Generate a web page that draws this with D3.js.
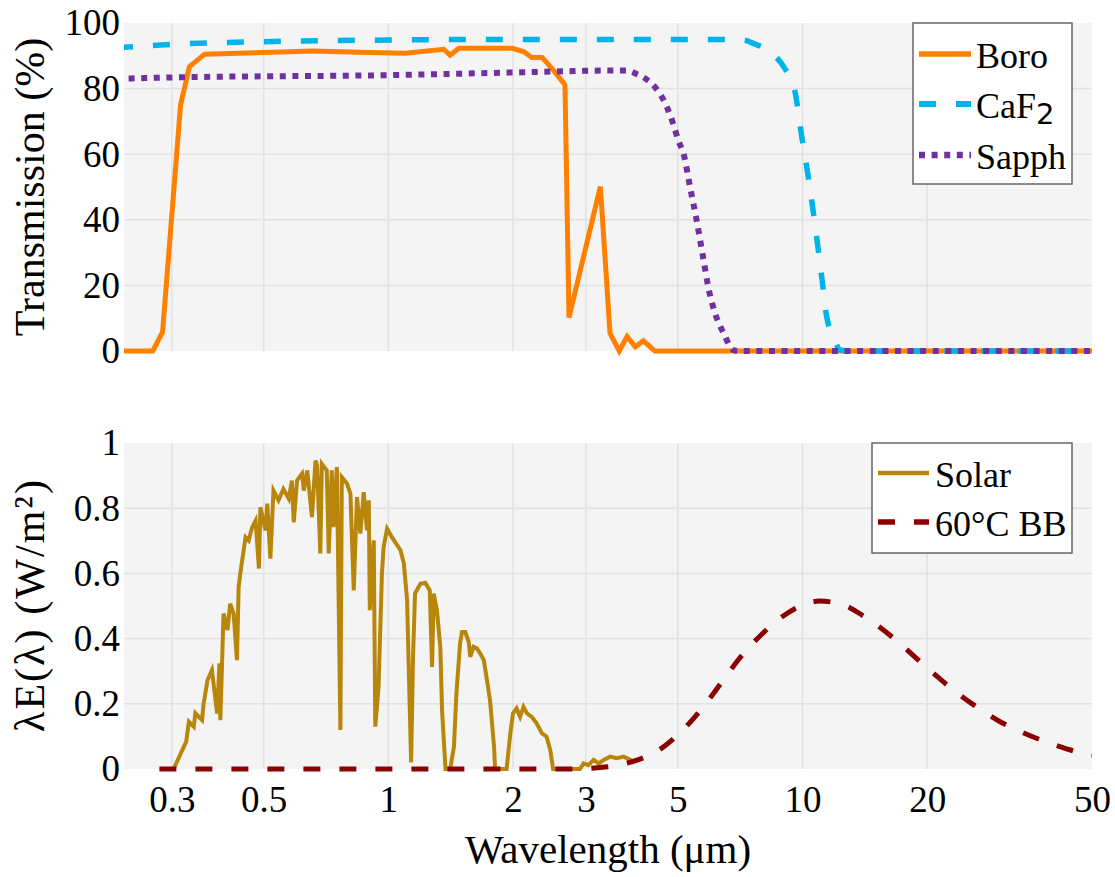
<!DOCTYPE html>
<html>
<head>
<meta charset="utf-8">
<script src="https://cdn.jsdelivr.net/npm/d3@7"></script>
<style>
  body { margin: 0; background: #fff; }
</style>
</head>
<body>
<div id="chart"></div>
<script>
// ---- data ----
const xTicks = [0.3, 0.5, 1, 2, 3, 5, 10, 20, 50];
const yTopTicks = [0, 20, 40, 60, 80, 100];
const yBotTicks = [0, 0.2, 0.4, 0.6, 0.8, 1];

// transmission (%)
const boroWl = [0.22, 0.27, 0.285, 0.315, 0.331, 0.36, 0.5, 0.66, 0.9, 1.1, 1.36, 1.41, 1.48, 1.99, 2.12, 2.22, 2.35, 2.5, 2.67, 2.73, 3.25, 3.43, 3.61, 3.77, 3.95, 4.13, 4.4, 50];
const boroT  = [0, 0, 5.8, 75, 86.7, 90.5, 91, 91.5, 91, 90.8, 92, 90.2, 92.3, 92.3, 91.3, 89.5, 89.5, 85.7, 81.1, 10.2, 50.1, 5.4, 0, 4.4, 1.3, 3.1, 0, 0];

const caf2Wl = [0.22, 0.3, 0.5, 1, 2, 4, 6.3, 7.2, 7.6, 8.3, 9.0, 9.57, 9.96, 10.3, 10.6, 11.2, 11.4, 11.97, 12.3, 13, 50];
const caf2T  = [92.4, 93.5, 94.3, 94.8, 95, 95, 95, 94.8, 93.8, 91.5, 86.7, 79.6, 65.3, 54, 43, 19.6, 11.5, 3.4, 0.3, 0, 0];

const sapphWl = [0.22, 0.3, 1, 2, 3.5, 3.75, 4.0, 4.2, 4.4, 4.7, 4.88, 5.02, 5.16, 5.35, 5.55, 5.77, 5.92, 6.15, 6.45, 6.8, 7, 50];
const sapphT  = [83, 83.4, 84.1, 84.9, 85.5, 85.5, 84.3, 82.8, 80.5, 74.5, 69, 64, 60.2, 50.1, 39.9, 27.7, 19.6, 11.5, 5.4, 0.3, 0, 0];

// normalised spectral power lambda*E(lambda)
const solarWl = [0.303, 0.318, 0.325, 0.33, 0.339, 0.342, 0.355, 0.358, 0.366, 0.375, 0.386, 0.391, 0.393, 0.4, 0.409, 0.415, 0.423, 0.431, 0.435, 0.439,
  0.452, 0.46, 0.469, 0.478, 0.487, 0.491, 0.505, 0.51, 0.519, 0.528, 0.543, 0.558, 0.575, 0.585, 0.591, 0.602, 0.619, 0.625, 0.637, 0.654,
  0.667, 0.673, 0.685, 0.691, 0.71, 0.718, 0.73, 0.737, 0.751, 0.766, 0.772, 0.795, 0.81, 0.825, 0.84, 0.856, 0.872, 0.888, 0.897, 0.902,
  0.922, 0.93, 0.947, 0.965, 0.974, 0.993, 1.02, 1.07, 1.09, 1.11, 1.12, 1.135, 1.147, 1.16, 1.195, 1.228, 1.259, 1.275, 1.287, 1.31,
  1.335, 1.348, 1.374, 1.41, 1.44, 1.46, 1.49, 1.506, 1.534, 1.563, 1.577, 1.606, 1.636, 1.667, 1.7, 1.73, 1.76, 1.8, 1.81, 1.93,
  1.97, 2.0, 2.04, 2.08, 2.12, 2.16, 2.22, 2.28, 2.35, 2.41, 2.46, 2.5, 2.9, 2.96, 3.04, 3.13, 3.22, 3.31, 3.43, 3.56, 3.7, 3.84, 3.95];
const solarE = [0, 0.058, 0.084, 0.145, 0.13, 0.171, 0.15, 0.2, 0.273, 0.303, 0.17, 0.324, 0.15, 0.477, 0.426, 0.507, 0.477, 0.334, 0.558, 0.599,
  0.711, 0.701, 0.742, 0.762, 0.615, 0.803, 0.732, 0.814, 0.645, 0.854, 0.824, 0.859, 0.829, 0.885, 0.757, 0.885, 0.906, 0.854, 0.916, 0.773,
  0.946, 0.931, 0.661, 0.936, 0.916, 0.661, 0.916, 0.742, 0.926, 0.12, 0.895, 0.875, 0.844, 0.548, 0.834, 0.722, 0.849, 0.732, 0.824, 0.487,
  0.701, 0.13, 0.252, 0.599, 0.681, 0.737, 0.711, 0.671, 0.63, 0.518, 0.313, 0.02, 0.344, 0.538, 0.568, 0.571, 0.548, 0.313, 0.538, 0.487,
  0.375, 0.18, 0, 0, 0.068, 0.232, 0.385, 0.42, 0.42, 0.39, 0.344, 0.375, 0.37, 0.354, 0.334, 0.273, 0.211, 0.068, 0, 0,
  0.109, 0.171, 0.186, 0.16, 0.191, 0.171, 0.16, 0.14, 0.109, 0.099, 0.058, 0, 0, 0.017, 0.012, 0.028, 0.017, 0.028, 0.038, 0.033, 0.038, 0.028, 0.022];

const bbWl = [0.28, 1, 2, 2.8, 3.2, 3.6, 4, 4.5, 5, 5.5, 6, 6.5, 7, 8, 9, 10, 11, 12, 13, 14, 15, 17, 20, 23, 26, 30, 35, 40, 45, 50];
const bbE  = [0, 0, 0, 0, 0.004, 0.012, 0.028, 0.058, 0.105, 0.16, 0.22, 0.28, 0.335, 0.415, 0.47, 0.503, 0.515, 0.51, 0.495, 0.47, 0.445, 0.39, 0.31, 0.245, 0.195, 0.145, 0.105, 0.077, 0.056, 0.043];

// ---- layout ----
const W = 1115, H = 877;
const left = 124, right = 1092;
const top1 = 23, bot1 = 351;
const top2 = 443, bot2 = 769;
const FONT = '"Liberation Serif", Tinos, "Times New Roman", Times, "DejaVu Serif", serif';

const svg = d3.select('#chart').append('svg')
  .attr('width', W).attr('height', H)
  .style('font-family', FONT);

const x = d3.scaleLog().domain([0.23, 50]).range([left, right]);
const yTop = d3.scaleLinear().domain([0, 100]).range([bot1, top1]);
const yBot = d3.scaleLinear().domain([0, 1]).range([bot2, top2]);

function styleText(sel, size) {
  sel.attr('font-family', FONT).style('font-family', FONT)
    .style('font-size', size + 'px').attr('fill', '#000');
  return sel;
}

function panel(id, y, y0, y1, yTicks) {
  svg.append('rect')
    .attr('x', left).attr('y', y0)
    .attr('width', right - left).attr('height', y1 - y0)
    .attr('fill', '#f4f4f4');
  svg.append('clipPath').attr('id', id)
    .append('rect')
    .attr('x', left).attr('y', y0 - 10)
    .attr('width', right - left).attr('height', y1 - y0 + 20);
  const g = svg.append('g');
  g.selectAll('.vg').data(xTicks.filter(d => d < 50)).enter().append('line')
    .attr('x1', d => x(d)).attr('x2', d => x(d))
    .attr('y1', y0).attr('y2', y1)
    .attr('stroke', '#e1e1e1').attr('stroke-width', 1.5);
  g.selectAll('.hg').data(yTicks.slice(1, -1)).enter().append('line')
    .attr('x1', left).attr('x2', right)
    .attr('y1', d => y(d)).attr('y2', d => y(d))
    .attr('stroke', '#e1e1e1').attr('stroke-width', 1.5);
  const ax = svg.append('g')
    .attr('transform', `translate(${left},0)`)
    .call(d3.axisLeft(y).tickValues(yTicks).tickFormat(d => String(d)).tickSize(0).tickPadding(4));
  ax.attr('font-family', null);
  ax.select('.domain').remove();
  styleText(ax.selectAll('text'), 37);
}

panel('clipTop', yTop, top1, bot1, yTopTicks);
panel('clipBot', yBot, top2, bot2, yBotTicks);

// x axis (bottom panel only)
const xa = svg.append('g')
  .attr('transform', `translate(0,${bot2})`)
  .call(d3.axisBottom(x).tickValues(xTicks).tickFormat(d => String(d)).tickSize(0).tickPadding(17));
xa.attr('font-family', null);
xa.select('.domain').remove();
styleText(xa.selectAll('text'), 37);

// series
function series(wl, vals, y, clip, opts) {
  const pts = wl.map((w, i) => [w, vals[i]]);
  const line = d3.line()
    .x(d => x(d[0])).y(d => y(d[1]))
    .curve(opts.smooth ? d3.curveMonotoneX : d3.curveLinear);
  svg.append('path')
    .datum(pts)
    .attr('clip-path', `url(#${clip})`)
    .attr('d', line)
    .attr('fill', 'none')
    .attr('stroke', opts.color)
    .attr('stroke-width', opts.width)
    .attr('stroke-dasharray', opts.dash || null)
    .attr('stroke-linejoin', 'miter')
    .attr('stroke-linecap', 'butt');
}

const sBoro  = { color: '#ff8000', width: 5 };
const sCaf2  = { color: '#00b4ea', width: 5.5, dash: '17,20', smooth: true };
const sSapph = { color: '#7030a0', width: 6, dash: '6,6.6', smooth: true };
const sSolar = { color: '#b8860b', width: 4 };
const sBB    = { color: '#8b0000', width: 5, dash: '17,19', smooth: true };

series(boroWl, boroT, yTop, 'clipTop', sBoro);
series(caf2Wl, caf2T, yTop, 'clipTop', sCaf2);
series(sapphWl, sapphT, yTop, 'clipTop', sSapph);
series(solarWl, solarE, yBot, 'clipBot', sSolar);
series(bbWl, bbE, yBot, 'clipBot', sBB);

// legends
function legend(x0, y0, x1, y1, rows, lx0, lx1, tx) {
  svg.append('rect')
    .attr('x', x0).attr('y', y0)
    .attr('width', x1 - x0).attr('height', y1 - y0)
    .attr('fill', '#fff').attr('stroke', '#666').attr('stroke-width', 1.5);
  rows.forEach(r => {
    svg.append('line')
      .attr('x1', lx0).attr('x2', lx1).attr('y1', r.y).attr('y2', r.y)
      .attr('stroke', r.s.color).attr('stroke-width', r.s.width + 0.5)
      .attr('stroke-dasharray', r.s.dash || null);
    const t = styleText(svg.append('text')
      .attr('x', tx).attr('y', r.y + 14), 36);
    t.append('tspan').text(r.label);
    if (r.sub) {
      t.append('tspan')
        .attr('dy', 6)
        .style('font-family', '"DejaVu Sans", sans-serif')
        .style('font-size', '29px')
        .text(r.sub);
    }
  });
}

legend(913, top1, 1072, 184, [
  { y: 54, s: sBoro, label: 'Boro' },
  { y: 104, s: sCaf2, label: 'CaF', sub: '2' },
  { y: 155, s: sSapph, label: 'Sapph' }
], 919, 971, 976);

legend(872, top2, 1072, 553, [
  { y: 473, s: sSolar, label: 'Solar' },
  { y: 522, s: sBB, label: '60\u00b0C BB' }
], 878, 929, 935);

// axis titles
styleText(svg.append('text')
  .attr('transform', `translate(44,${(top1 + bot1) / 2}) rotate(-90)`)
  .attr('text-anchor', 'middle')
  .text('Transmission (%)'), 42);

styleText(svg.append('text')
  .attr('transform', `translate(44,${(top2 + bot2) / 2}) rotate(-90)`)
  .attr('text-anchor', 'middle')
  .attr('textLength', 252)
  .attr('lengthAdjust', 'spacing')
  .text('\u03bbE(\u03bb) (W/m\u00b2)'), 42);

styleText(svg.append('text')
  .attr('x', (left + right) / 2).attr('y', 863)
  .attr('text-anchor', 'middle')
  .text('Wavelength (\u03bcm)'), 41);
</script>
</body>
</html>
